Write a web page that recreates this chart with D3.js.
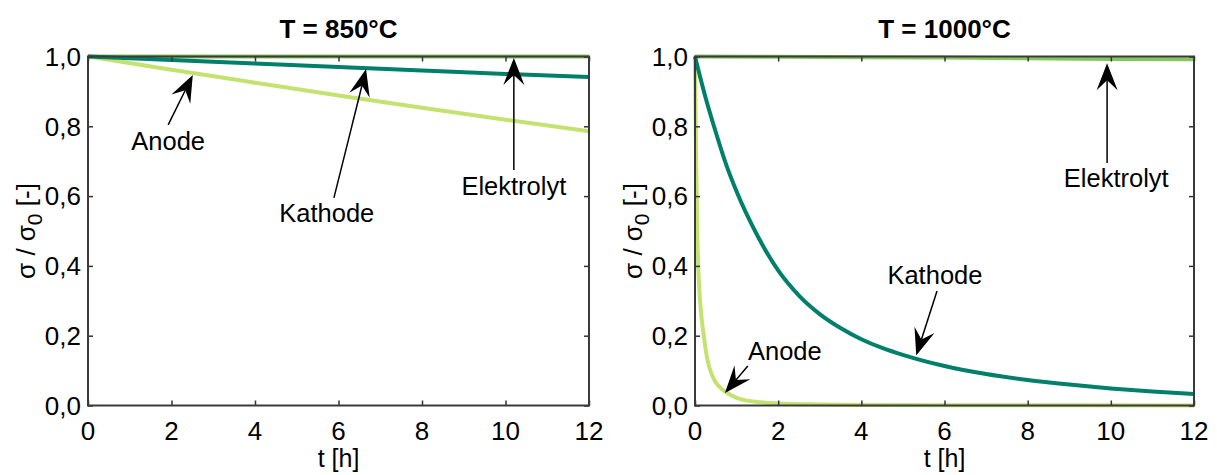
<!DOCTYPE html>
<html>
<head>
<meta charset="utf-8">
<script src="https://cdn.jsdelivr.net/npm/d3@7"></script>
<style>
  html, body { margin: 0; padding: 0; background: #fff; }
  svg { display: block; }
  text { font-family: "Liberation Sans", Arial, sans-serif; fill: #000; }
</style>
</head>
<body>
<svg id="chart" width="1217" height="475"></svg>
<script>
// ---- Data: normalised conductivity sigma/sigma0 over time t [h] ----
const xTicks = [0, 2, 4, 6, 8, 10, 12];
const yTicks = [0, 0.2, 0.4, 0.6, 0.8, 1.0];

// T = 850 °C
const t850 = [0, 2, 4, 6, 8, 10, 12];
const kathode850 = [1.0, 0.990, 0.980, 0.970, 0.960, 0.950, 0.941];
const anode850 = [1.0, 0.962, 0.925, 0.888, 0.853, 0.819, 0.786];
const elektrolyt850 = [1.0, 1.0, 1.0, 1.0, 1.0, 1.0, 1.0];

// T = 1000 °C
const tKathode1000 = [0, 0.25, 0.5, 0.75, 1, 1.5, 2, 2.5, 3, 3.5, 4, 4.5, 5, 6, 7, 8, 9, 10, 11, 12];
const kathode1000 = [1.0, 0.884, 0.783, 0.690, 0.613, 0.487, 0.387, 0.315, 0.262, 0.222, 0.190,
                     0.165, 0.145, 0.113, 0.090, 0.073, 0.060, 0.049, 0.040, 0.033];
const tAnode1000 = [0, 0.025, 0.05, 0.1, 0.15, 0.2, 0.3, 0.4, 0.5, 0.6, 0.75, 1, 1.25, 1.5, 2, 3, 4, 6, 12];
const anode1000 = [1.0, 0.73, 0.52, 0.34, 0.26, 0.21, 0.13, 0.09, 0.066, 0.052, 0.038, 0.022,
                   0.014, 0.010, 0.006, 0.003, 0.0015, 0.001, 0.0];
const tElektrolyt1000 = [0, 2, 4, 6, 8, 10, 12];
const elektrolyt1000 = [1.0, 0.999, 0.998, 0.997, 0.995, 0.993, 0.992];

// Annotations in data units: label centre, arrow tail, arrow tip
const notes850 = [
  { label: "Anode",      text: [1.92, 0.758], tail: [1.92, 0.804], tip: [2.51, 0.947] },
  { label: "Kathode",    text: [5.72, 0.552], tail: [5.89, 0.595], tip: [6.66, 0.964] },
  { label: "Elektrolyt", text: [10.2, 0.629], tail: [10.2, 0.675], tip: [10.2, 0.996] }
];
const notes1000 = [
  { label: "Elektrolyt", text: [10.13, 0.652], tail: [9.91, 0.695], tip: [9.91, 0.981] },
  { label: "Kathode",    text: [5.77, 0.374],  tail: [5.82, 0.328], tip: [5.32, 0.143] },
  { label: "Anode",      text: [2.16, 0.156],  tail: [1.27, 0.113], tip: [0.72, 0.036] }
];

const colors = { kathode: "#00806a", anode: "#c4e270", elektrolyt: "#86c65e" };

const panels = [
  {
    title: "T = 850°C", x0: 88, x1: 589,
    series: [
      { t: t850, v: elektrolyt850, c: colors.elektrolyt },
      { t: t850, v: anode850, c: colors.anode },
      { t: t850, v: kathode850, c: colors.kathode }
    ],
    notes: notes850
  },
  {
    title: "T = 1000°C", x0: 695, x1: 1194,
    series: [
      { t: tElektrolyt1000, v: elektrolyt1000, c: colors.elektrolyt },
      { t: tAnode1000, v: anode1000, c: colors.anode },
      { t: tKathode1000, v: kathode1000, c: colors.kathode }
    ],
    notes: notes1000
  }
];

const svg = d3.select("#chart");
const yTop = 56.5, yBottom = 405.5;
const fmt = d => d3.format(".1f")(d).replace(".", ",");

panels.forEach(p => {
  const x = d3.scaleLinear().domain([0, 12]).range([p.x0, p.x1]);
  const y = d3.scaleLinear().domain([0, 1]).range([yBottom, yTop]);
  const g = svg.append("g");

  // data lines (drawn first so the frame sits on top of them)
  const line = d3.line().x(d => x(d[0])).y(d => y(d[1])).curve(d3.curveMonotoneX);
  p.series.forEach(s => {
    g.append("path")
      .attr("d", line(s.t.map((t, i) => [t, s.v[i]])))
      .attr("fill", "none").attr("stroke", s.c).attr("stroke-width", 4)
      .attr("stroke-linejoin", "round");
  });

  // inward ticks on all four sides
  const tickLen = 5;
  g.append("g").attr("transform", `translate(0,${yBottom})`)
    .call(d3.axisBottom(x).tickValues(xTicks).tickSize(-tickLen).tickFormat(""))
    .call(a => a.select(".domain").remove());
  g.append("g").attr("transform", `translate(0,${yTop})`)
    .call(d3.axisTop(x).tickValues(xTicks).tickSize(-tickLen).tickFormat(""))
    .call(a => a.select(".domain").remove());
  g.append("g").attr("transform", `translate(${p.x0},0)`)
    .call(d3.axisLeft(y).tickValues(yTicks).tickSize(-tickLen).tickFormat(""))
    .call(a => a.select(".domain").remove());
  g.append("g").attr("transform", `translate(${p.x1},0)`)
    .call(d3.axisRight(y).tickValues(yTicks).tickSize(-tickLen).tickFormat(""))
    .call(a => a.select(".domain").remove());
  g.selectAll(".tick line").attr("stroke", "#333").attr("stroke-width", 1.5);

  // tick labels
  g.selectAll(".xl").data(xTicks).enter().append("text")
    .attr("x", d => x(d)).attr("y", 439.5)
    .attr("text-anchor", "middle").attr("font-size", 26)
    .text(d => d);
  g.selectAll(".yl").data(yTicks).enter().append("text")
    .attr("x", p.x0 - 7).attr("y", d => y(d)).attr("dy", "0.36em")
    .attr("text-anchor", "end").attr("font-size", 26)
    .text(fmt);

  // frame
  g.append("rect")
    .attr("x", p.x0).attr("y", yTop)
    .attr("width", p.x1 - p.x0).attr("height", yBottom - yTop)
    .attr("fill", "none").attr("stroke", "#3a3a3a").attr("stroke-width", 2);

  // annotations with arrows
  p.notes.forEach(n => {
    const tx = x(n.tail[0]), ty = y(n.tail[1]);
    const hx = x(n.tip[0]), hy = y(n.tip[1]);
    const ang = Math.atan2(hy - ty, hx - tx);
    const L = 27, W = 10.5, notch = 17;
    const ca = Math.cos(ang), sa = Math.sin(ang);
    const pt = (back, side) => [hx - back * ca - side * sa, hy - back * sa + side * ca];
    const nb = pt(notch, 0);
    g.append("line")
      .attr("x1", tx).attr("y1", ty).attr("x2", nb[0]).attr("y2", nb[1])
      .attr("stroke", "#000").attr("stroke-width", 1.5);
    const head = [[hx, hy], pt(L, W), nb, pt(L, -W)];
    g.append("path").attr("d", "M" + head.map(q => q.join(",")).join("L") + "Z")
      .attr("fill", "#000");
    g.append("text")
      .attr("x", x(n.text[0])).attr("y", y(n.text[1])).attr("dy", "0.36em")
      .attr("text-anchor", "middle").attr("font-size", 25.5)
      .text(n.label);
  });

  // title
  const cx = (p.x0 + p.x1) / 2;
  g.append("text").attr("x", cx).attr("y", 38)
    .attr("text-anchor", "middle").attr("font-size", 26).attr("font-weight", "bold")
    .text(p.title);

  // x axis label
  g.append("text").attr("x", cx).attr("y", 467)
    .attr("text-anchor", "middle").attr("font-size", 25)
    .text("t [h]");

  // y axis label
  const yl = g.append("text")
    .attr("transform", `translate(${p.x0 - 53},${(yTop + yBottom) / 2}) rotate(-90)`)
    .attr("text-anchor", "middle").attr("font-size", 26);
  yl.append("tspan").text("σ / σ");
  yl.append("tspan").attr("dy", 7).attr("font-size", 21).text("0");
  yl.append("tspan").attr("dy", -7).text(" [-]");
});
</script>
</body>
</html>
